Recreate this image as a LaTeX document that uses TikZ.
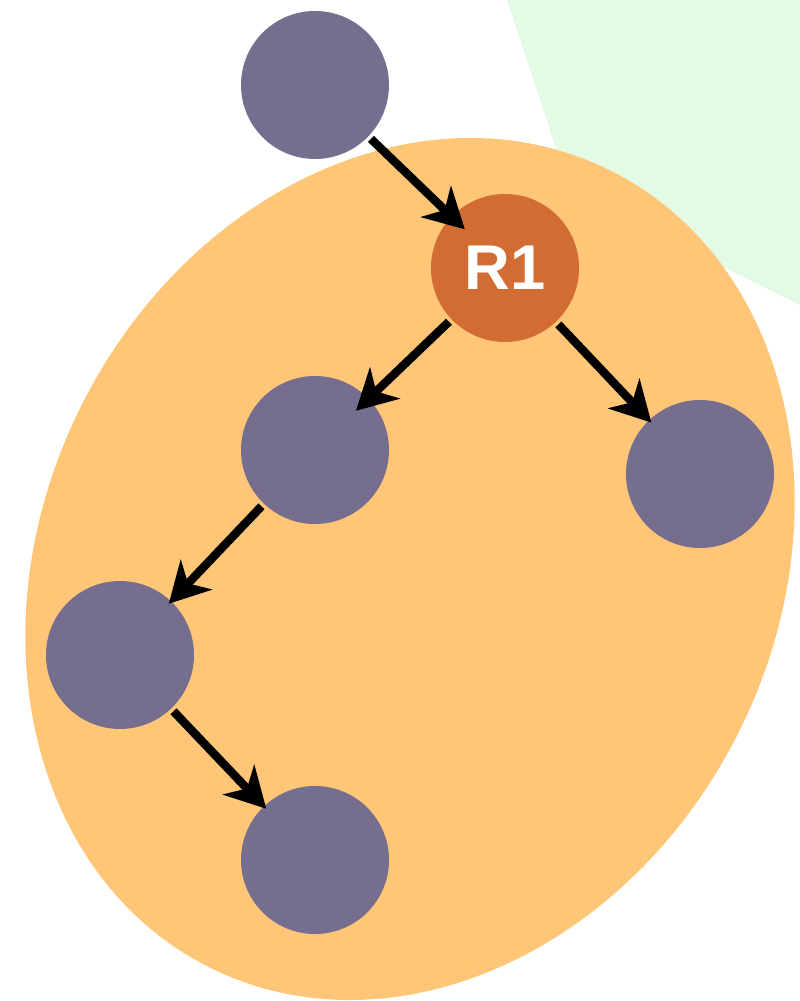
\documentclass[tikz,border=0pt]{standalone}
\usepackage{fontspec}
\setsansfont{Liberation Sans}
\usetikzlibrary{positioning,arrows.meta}
\definecolor{vertfill}{HTML}{756E8F}
\definecolor{rootfill}{HTML}{D26C33}
\definecolor{blobfill}{HTML}{FEC676}
\definecolor{bggreen}{HTML}{E3FAE5}
\tikzset{vert/.style={circle,fill=vertfill,minimum size=14.8mm,inner sep=0pt},
  root/.style={vert,fill=rootfill,text=white,font=\sffamily\bfseries\fontsize{18}{18}\selectfont},
  arr/.style={-{Stealth[length=4mm,width=4.3mm,inset=1.2mm]},line width=2.4pt,shorten <=0.3mm}}

\begin{document}
\begin{tikzpicture}[on grid]
  \useasboundingbox (0,0) rectangle (8,10.01);

  % background patches
  \fill[bggreen] (5.07,10.01) -- (5.70,8.10) -- (8,6.96) -- (8,10.01) -- cycle;
  \fill[blobfill,rotate around={63:(4.10,4.32)}] (4.10,4.32) ellipse (4.46 and 3.67);

  % the tree
  \node (top) [vert] at (3.15,9.16) {};
  \node (r1) [root,below right=1.83cm and 1.9cm of top] {R1};
  \node (l) [vert,below left=1.82cm and 1.9cm of r1] {};
  \node (r) [vert,below right=2.06cm and 1.95cm of r1] {};
  \node (ll) [vert,below left=2.05cm and 1.95cm of l] {};
  \node (llr) [vert,below right=2.05cm and 1.95cm of ll] {};

  % arrows
  \draw[arr,shorten >=-1.9mm] (top) -- (r1);
  \draw[arr,shorten >=-1.8mm] (r1) -- (l);
  \foreach \a/\b in {r1/r, l/ll, ll/llr}
    {\draw[arr,shorten >=-0.4mm] (\a) -- (\b);}
\end{tikzpicture}
\end{document}
